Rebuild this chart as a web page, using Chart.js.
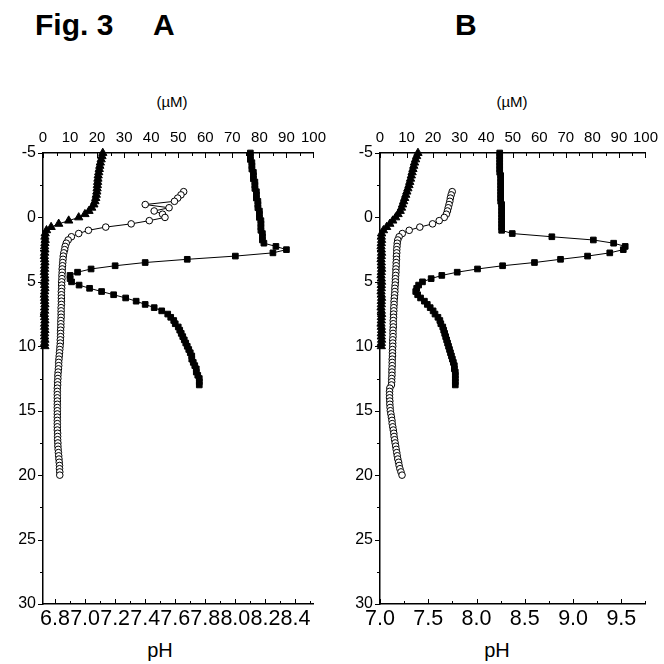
<!DOCTYPE html>
<html>
<head>
<meta charset="utf-8">
<script src="https://cdn.jsdelivr.net/npm/chart.js@4.4.0/dist/chart.umd.min.js"></script>
<style>
  body { margin: 0; background: #fff; }
  #page { position: relative; width: 664px; height: 664px; font-family: "Liberation Sans", Arial, sans-serif; color: #000; }
  #page canvas { position: absolute; top: 0; }
  .t { position: absolute; white-space: nowrap; line-height: 1; }
  .fig { font-size: 30px; font-weight: bold; top: 10px; }
  .unit { font-size: 15px; top: 94px; transform: translateX(-50%); }
  .ph { font-size: 20px; top: 640px; transform: translateX(-50%); }
</style>
</head>
<body>
<div id="page">
  <div class="t fig" style="left:35px">Fig. 3</div>
  <div class="t fig" style="left:153px">A</div>
  <div class="t fig" style="left:455px">B</div>
  <div class="t unit" style="left:172px">(µM)</div>
  <div class="t unit" style="left:512px">(µM)</div>
  <div class="t ph" style="left:160px">pH</div>
  <div class="t ph" style="left:497px">pH</div>
  <canvas id="chartA" width="332" height="664" style="left:0"></canvas>
  <canvas id="chartB" width="332" height="664" style="left:332px"></canvas>
</div>
<script>
const depthTicks = [-5, 0, 5, 10, 15, 20, 25, 30];
const concTicks = [0, 10, 20, 30, 40, 50, 60, 70, 80, 90, 100];
const phTicksA = [6.8, 7.0, 7.2, 7.4, 7.6, 7.8, 8.0, 8.2, 8.4];
const phTicksB = [7.0, 7.5, 8.0, 8.5, 9.0, 9.5];

// depths (mm) of each profile
const depthTri = [-5, -4.75, -4.5, -4.25, -4, -3.75, -3.5, -3.25, -3, -2.75, -2.5, -2.25, -2, -1.75, -1.5, -1.25, -1,
  -0.75, -0.5, -0.25, 0, 0.25, 0.5, 0.75, 1, 1.25, 1.5, 1.75, 2, 2.25, 2.5, 2.75, 3, 3.25, 3.5, 3.75, 4, 4.25, 4.5,
  4.75, 5, 5.25, 5.5, 5.75, 6, 6.25, 6.5, 6.75, 7, 7.25, 7.5, 7.75, 8, 8.25, 8.5, 8.75, 9, 9.25, 9.5, 9.75, 10];
const depthCirc = [-2, -1.75, -1.5, -1.25, -1, -0.75, -0.5, -0.25, 0, 0.25, 0.5, 0.75, 1, 1.25, 1.5, 1.75, 2,
  2.25, 2.5, 2.75, 3, 3.25, 3.5, 3.75, 4, 4.25, 4.5, 4.75, 5, 5.25, 5.5, 5.75, 6, 6.25, 6.5, 6.75, 7, 7.25, 7.5,
  7.75, 8, 8.25, 8.5, 8.75, 9, 9.25, 9.5, 9.75, 10, 10.25, 10.5, 10.75, 11, 11.25, 11.5, 11.75, 12, 12.25, 12.5,
  12.75, 13, 13.25, 13.5, 13.75, 14, 14.25, 14.5, 14.75, 15, 15.25, 15.5, 15.75, 16, 16.25, 16.5, 16.75, 17,
  17.25, 17.5, 17.75, 18, 18.25, 18.5, 18.75, 19, 19.25, 19.5, 19.75, 20];
const depthSq = [-5, -4.75, -4.5, -4.25, -4, -3.75, -3.5, -3.25, -3, -2.75, -2.5, -2.25, -2, -1.75, -1.5, -1.25, -1,
  -0.75, -0.5, -0.25, 0, 0.25, 0.5, 0.75, 1, 1.25, 1.5, 1.75, 2, 2.25, 2.5, 2.75, 3, 3.25, 3.5, 3.75, 4, 4.25, 4.5,
  4.75, 5, 5.25, 5.5, 5.75, 6, 6.25, 6.5, 6.75, 7, 7.25, 7.5, 7.75, 8, 8.25, 8.5, 8.75, 9, 9.25, 9.5, 9.75, 10,
  10.25, 10.5, 10.75, 11, 11.25, 11.5, 11.75, 12, 12.25, 12.5, 12.75, 13];

// panel A
const triA = [22.1, 21.8, 21.5, 21.2, 21.0, 20.8, 20.6, 20.4, 20.3, 20.2, 20.1, 20.0, 19.9, 19.7, 19.5, 19.2, 18.8,
  18.0, 17.0, 15.5, 13.2, 9.5, 5.8, 3.0, 1.3, 0.8, 0.7,
  0.8, 0.7, 0.6, 0.7, 0.6, 0.5, 0.6, 0.7, 0.6, 0.6, 0.5, 0.6, 0.7, 0.6, 0.6, 0.7, 0.6, 0.5, 0.6, 0.6,
  0.7, 0.6, 0.6, 0.5, 0.6, 0.7, 0.6, 0.6, 0.7, 0.6, 0.6, 0.7, 0.6, 0.7];
const circA = [52.0, 51.0, 49.8, 48.6, 37.8, 46.6, 41.1, 44.2, 45.1,
  39.3, 32.6, 23.2, 16.8, 13.2, 10.5, 9.3, 8.6,
  8.2, 8.0, 7.7, 7.5, 7.4, 7.3, 7.2, 7.1, 7.1, 7.0, 7.0, 6.9, 6.9, 6.9, 6.8, 6.8, 6.8, 6.8, 6.8, 6.7,
  6.7, 6.7, 6.7, 6.6, 6.6, 6.6, 6.5, 6.5, 6.5, 6.4, 6.4, 6.3,
  6.2, 6.1, 6.0, 5.9, 5.8, 5.8, 5.7, 5.6, 5.5, 5.5, 5.4, 5.4, 5.3, 5.3, 5.3, 5.3, 5.3, 5.3, 5.3, 5.3,
  5.3, 5.3, 5.3, 5.3, 5.3, 5.3, 5.4, 5.4, 5.4, 5.5, 5.5, 5.6, 5.7, 5.8, 5.9, 6.0, 6.1, 6.1, 6.2, 6.2];
const phA = [8.10, 8.10, 8.10, 8.11, 8.11, 8.11, 8.12, 8.12, 8.12, 8.13, 8.13, 8.13, 8.14, 8.14, 8.14, 8.15, 8.15,
  8.15, 8.16, 8.16, 8.16, 8.17, 8.17, 8.17, 8.17, 8.18, 8.18, 8.18, 8.19,
  8.27, 8.34, 8.25, 8.00, 7.68, 7.40, 7.20, 7.04, 6.95, 6.90, 6.90, 6.91, 6.96, 7.03, 7.11, 7.19, 7.27, 7.34,
  7.40, 7.46, 7.51, 7.55, 7.57, 7.59, 7.60, 7.62, 7.63, 7.64, 7.65, 7.66, 7.67, 7.68, 7.69, 7.70, 7.71, 7.71,
  7.72, 7.73, 7.74, 7.74, 7.75, 7.76, 7.76, 7.76];

// panel B
const triB = [14.3, 13.8, 13.4, 13.0, 12.7, 12.4, 12.1, 11.8, 11.5, 11.2, 10.9, 10.5, 10.1, 9.7, 9.3, 8.9, 8.5,
  8.1, 7.6, 6.8, 5.9, 4.8, 3.7, 2.5, 1.3, 0.6, 0.5,
  0.6, 0.5, 0.4, 0.5, 0.6, 0.5, 0.4, 0.5, 0.5, 0.6, 0.5, 0.4, 0.5, 0.6, 0.5, 0.5, 0.4, 0.5, 0.6, 0.5,
  0.5, 0.4, 0.5, 0.6, 0.5, 0.5, 0.4, 0.5, 0.6, 0.5, 0.5, 0.6, 0.5, 0.5];
const circB = [27.2, 26.8, 26.5, 26.3, 26.0, 25.7, 25.4, 25.0, 24.2,
  22.3, 19.8, 15.0, 11.0, 8.4, 7.2, 6.7, 6.5,
  6.4, 6.3, 6.3, 6.2, 6.2, 6.1, 6.1, 6.0, 6.0, 5.9, 5.8, 5.8, 5.7, 5.6, 5.6, 5.5, 5.4, 5.3, 5.3, 5.2,
  5.2, 5.1, 5.1, 5.0, 5.0, 5.0, 4.9, 4.9, 4.9, 4.8, 4.8, 4.8,
  4.7, 4.7, 4.7, 4.6, 4.6, 4.6, 4.5, 4.5, 4.5, 4.4, 4.4, 4.3, 3.7, 3.6, 3.6, 3.6, 3.7, 3.7, 3.8, 3.9,
  4.1, 4.3, 4.5, 4.6, 4.8, 5.0, 5.2, 5.3, 5.5, 5.7, 5.9, 6.1, 6.3, 6.5, 6.7, 7.0, 7.2, 7.5, 7.9, 8.3];
const phB = [8.24, 8.24, 8.24, 8.24, 8.24, 8.24, 8.24, 8.25, 8.25, 8.25, 8.25, 8.25, 8.25, 8.25, 8.25, 8.25, 8.26,
  8.26, 8.26, 8.26, 8.26, 8.26, 8.26, 8.26, 8.26,
  8.37, 8.78, 9.21, 9.42, 9.54, 9.52, 9.38, 9.15, 8.87, 8.60, 8.27, 8.01, 7.80, 7.64, 7.53, 7.44, 7.40, 7.38,
  7.37, 7.39, 7.42, 7.46, 7.49, 7.52, 7.55, 7.57, 7.60, 7.62, 7.63, 7.65, 7.66, 7.67, 7.68, 7.69, 7.70, 7.71,
  7.72, 7.73, 7.74, 7.75, 7.76, 7.77, 7.77, 7.78, 7.78, 7.78, 7.78, 7.78];

Chart.defaults.font.family = '"Liberation Sans", Arial, sans-serif';
Chart.defaults.color = '#000';

const pts = (ys, xs) => xs.map((x, i) => ({ x: x, y: ys[i] }));
const fixTicks = list => s => { s.ticks = list.map(v => ({ value: v })); };

// top/bottom ticks point inward, depth ticks outward; minor ticks halfway
const tickMarks = {
  id: 'tickMarks',
  afterDraw(chart) {
    const ctx = chart.ctx;
    const area = chart.chartArea;
    ctx.save();
    ctx.strokeStyle = '#000';
    ctx.lineWidth = 1;
    ['x', 'ph', 'y'].forEach(id => {
      const s = chart.scales[id];
      const major = s.ticks.map(t => t.value);
      const step = major[1] - major[0];
      const marks = major.map(v => [v, 5]);
      for (let v = major[0] - step / 2; v <= s.max + 1e-9; v += step) {
        if (v >= s.min - 1e-9) marks.push([v, 3]);
      }
      ctx.beginPath();
      marks.forEach(([v, len]) => {
        const p = Math.round(s.getPixelForValue(v)) + 0.5;
        if (id === 'x') { ctx.moveTo(p, area.top); ctx.lineTo(p, area.top + len); }
        else if (id === 'ph') { ctx.moveTo(p, area.bottom); ctx.lineTo(p, area.bottom - len); }
        else { ctx.moveTo(area.left - len, p); ctx.lineTo(area.left, p); }
      });
      ctx.stroke();
    });
    ctx.restore();
  }
};

function panel(id, cfg) {
  const base = { yAxisID: 'y', showLine: true, borderColor: '#000', borderWidth: 1,
    pointBorderColor: '#000', pointBorderWidth: 1, clip: false };
  return new Chart(document.getElementById(id), {
    type: 'scatter',
    data: {
      datasets: [
        Object.assign({}, base, { data: pts(depthSq, cfg.ph), xAxisID: 'ph', pointStyle: 'rect',
          pointRadius: 4, pointBackgroundColor: '#000' }),
        Object.assign({}, base, { data: pts(depthCirc, cfg.circ), xAxisID: 'x', pointStyle: 'circle',
          pointRadius: 3.3, pointBackgroundColor: '#fff' }),
        Object.assign({}, base, { data: pts(depthTri, cfg.tri), xAxisID: 'x', pointStyle: 'triangle',
          pointRadius: 4.8, pointBackgroundColor: '#000' }),
      ]
    },
    options: {
      responsive: false,
      animation: false,
      layout: { padding: { left: 0, right: cfg.padRight, top: 0, bottom: 0 } },
      plugins: { legend: { display: false }, tooltip: { enabled: false } },
      scales: {
        y: {
          type: 'linear', position: 'left', reverse: true, min: -5, max: 30,
          afterBuildTicks: fixTicks(depthTicks),
          afterFit: s => { s.width = cfg.yWidth; },
          grid: { display: false, drawTicks: false },
          border: { display: true, color: '#000', width: 1.5 },
          ticks: { padding: 7, font: { size: 16 } }
        },
        x: {
          type: 'linear', position: 'top', min: 0, max: 100,
          afterBuildTicks: fixTicks(concTicks),
          afterFit: s => { s.height = 153; },
          grid: { display: false, drawTicks: false },
          border: { display: true, color: '#000', width: 1.5 },
          ticks: { padding: 6, font: { size: 15 }, autoSkip: false, maxRotation: 0 }
        },
        ph: {
          type: 'linear', position: 'bottom', min: cfg.phMin, max: cfg.phMax,
          afterBuildTicks: fixTicks(cfg.phTicks),
          afterFit: s => { s.height = 60; },
          grid: { display: false, drawTicks: false },
          border: { display: true, color: '#000', width: 1.5 },
          ticks: { padding: 2, autoSkip: false, maxRotation: 0, font: { size: 21.5 },
            callback: v => v.toFixed(1) }
        }
      }
    },
    plugins: [tickMarks]
  });
}

panel('chartA', { tri: triA, circ: circA, ph: phA, phMin: 6.72, phMax: 8.52, phTicks: phTicksA, yWidth: 43, padRight: 17 });
panel('chartB', { tri: triB, circ: circB, ph: phB, phMin: 7.0, phMax: 9.75, phTicks: phTicksB, yWidth: 48, padRight: 16 });
</script>
</body>
</html>
